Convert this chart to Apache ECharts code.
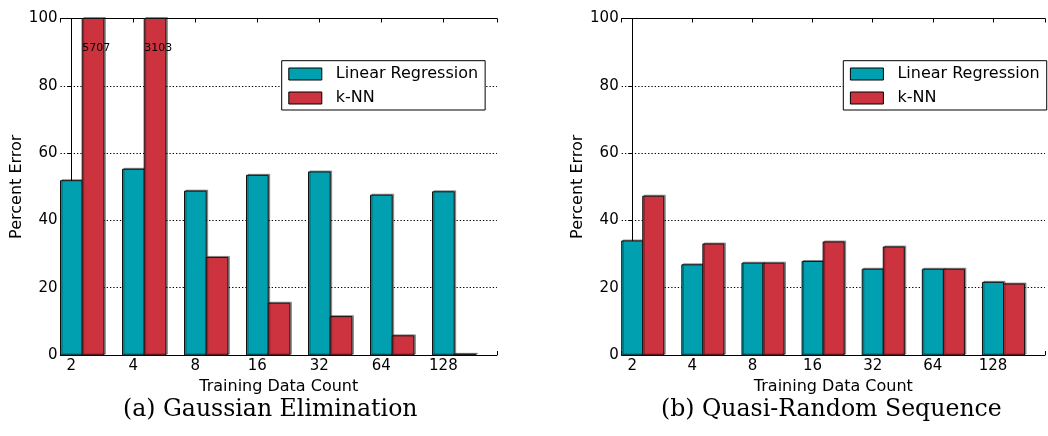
<!DOCTYPE html>
<html><head><meta charset="utf-8">
<script src="https://cdn.jsdelivr.net/npm/echarts@6/dist/echarts.min.js"></script>
<style>html,body{margin:0;padding:0;background:#fff}#c{width:1048px;height:436px}</style>
</head><body><div id="c"></div>
<script>
// ---- data ----
const categories = ['2', '4', '8', '16', '32', '64', '128'];
const gaussLR  = [51.8, 55.2, 48.7, 53.4, 54.4, 47.5, 48.5];
const gaussKNN = [5707, 3103, 29.0, 15.4, 11.4, 5.7, 0.2];
const quasiLR  = [33.9, 26.8, 27.3, 27.8, 25.5, 25.5, 21.6];
const quasiKNN = [47.2, 33.0, 27.3, 33.6, 32.1, 25.5, 21.1];
const yTicks = [0, 20, 40, 60, 80, 100];
const seriesNames = ['Linear Regression', 'k-NN'];
const captions = ['(a) Gaussian Elimination', '(b) Quasi-Random Sequence'];
const xName = 'Training Data Count';
const yName = 'Percent Error';
const overflowLabelY = 90;

// ---- style / layout ----
const FONT = 'DejaVu Sans';
const TEAL = '#00A0B0', RED = '#CC333F';
const BW = 0.35;            // bar width in x units
const XMIN = -0.175, XMAX = 6.865;
const YMIN = yTicks[0], YMAX = yTicks[yTicks.length - 1], YINT = yTicks[1] - yTicks[0];
const gridLefts = [60.5, 621.7];
const legendLefts = [281.7, 843.3];
const captionLefts = [123, 661];

function barRender(offset) {
  return function (params, api) {
    const k = api.value(0), v = api.value(1);
    const a = api.coord([k + offset, 0]);
    const b = api.coord([k + offset + BW, v]);
    const cs = params.coordSys;
    const rect = echarts.graphic.clipRectByRect(
      {x: a[0], y: b[1], width: b[0] - a[0], height: a[1] - b[1]},
      {x: cs.x, y: cs.y, width: cs.width, height: cs.height});
    const children = [];
    if (rect) children.push({type: 'rect', shape: rect,
      style: {fill: api.visual('color'), stroke: '#111', lineWidth: 1,
              shadowColor: 'rgba(0,0,0,0.35)', shadowOffsetX: 1.5, shadowOffsetY: -1, shadowBlur: 0}});
    if (v > YMAX) {
      const p = api.coord([k + offset, overflowLabelY]);
      children.push({type: 'text', x: p[0], y: p[1] + 1,
        style: {text: String(v), fontFamily: FONT, fontSize: 11, fill: '#000',
                align: 'left', verticalAlign: 'bottom'}});
    }
    return {type: 'group', children};
  };
}

const panels = [[gaussLR, gaussKNN], [quasiLR, quasiKNN]];
const grid = [], xAxis = [], yAxis = [], series = [], legend = [], title = [];

panels.forEach((vals, g) => {
  grid.push({left: gridLefts[g], top: 18.5, width: 436.5, height: 336.5});
  const xBase = {gridIndex: g, type: 'value', min: XMIN, max: XMAX, minInterval: 1, maxInterval: 1,
    splitLine: {show: false},
    axisLine: {show: true, onZero: false, lineStyle: {color: '#000', width: 1}},
    axisTick: {show: true, inside: true, length: 4, lineStyle: {color: '#000'}}};
  xAxis.push(Object.assign({}, xBase, {position: 'bottom',
    axisLabel: {show: true, margin: 4, color: '#000', fontFamily: FONT, fontSize: 15,
      formatter: v => (Number.isInteger(v) && categories[v] !== undefined) ? categories[v] : ''},
    name: xName, nameLocation: 'middle', nameGap: 18,
    nameTextStyle: {color: '#000', fontFamily: FONT, fontSize: 16}}));
  xAxis.push(Object.assign({}, xBase, {position: 'top', axisLabel: {show: false}}));
  const yBase = {gridIndex: g, type: 'value', min: YMIN, max: YMAX, interval: YINT,
    axisLine: {show: true, lineStyle: {color: '#000', width: 1}}};
  yAxis.push(Object.assign({}, yBase, {position: 'left',
    axisTick: {show: true, inside: false, length: 3, lineStyle: {color: '#000'}},
    axisLabel: {show: true, margin: 3, color: '#000', fontFamily: FONT, fontSize: 15},
    splitLine: {show: true, lineStyle: {color: '#000', width: 1.2, type: [1.3, 2]}},
    name: yName, nameLocation: 'middle', nameGap: 33, nameRotate: 90,
    nameTextStyle: {color: '#000', fontFamily: FONT, fontSize: 16}}));
  yAxis.push(Object.assign({}, yBase, {position: 'right', axisLabel: {show: false}, splitLine: {show: false},
    axisTick: {show: true, inside: true, length: 4, lineStyle: {color: '#000'}}}));

  [TEAL, RED].forEach((col, s) => {
    series.push({type: 'custom', name: seriesNames[s], xAxisIndex: g * 2, yAxisIndex: g * 2,
      itemStyle: {color: col, borderColor: '#000', borderWidth: 1},
      renderItem: barRender(s === 0 ? -BW / 2 : BW / 2),
      encode: {x: 0, y: 1},
      data: vals[s].map((v, i) => [i, v])});
  });

  legend.push({data: seriesNames, orient: 'vertical', left: legendLefts[g], top: 60.7,
    itemWidth: 33, itemHeight: 12, itemGap: 8, padding: [5.3, 7, 4, 6.6],
    backgroundColor: '#fff', borderColor: '#000', borderWidth: 1, borderRadius: 0,
    icon: 'rect', selectedMode: false,
    itemStyle: {borderColor: '#000', borderWidth: 1},
    textStyle: {fontSize: 16, fontFamily: FONT, color: '#000', padding: [0, 0, 0, 9]}});

  title.push({text: captions[g], left: captionLefts[g], top: 398, padding: 0,
    textStyle: {fontFamily: 'DejaVu Serif', fontSize: 23.6, fontWeight: 'normal', color: '#000'}});
});

const chart = echarts.init(document.getElementById('c'), null, {renderer: 'canvas'});
chart.setOption({animation: false, backgroundColor: '#fff', grid, xAxis, yAxis, series, legend, title});
</script>
</body></html>
